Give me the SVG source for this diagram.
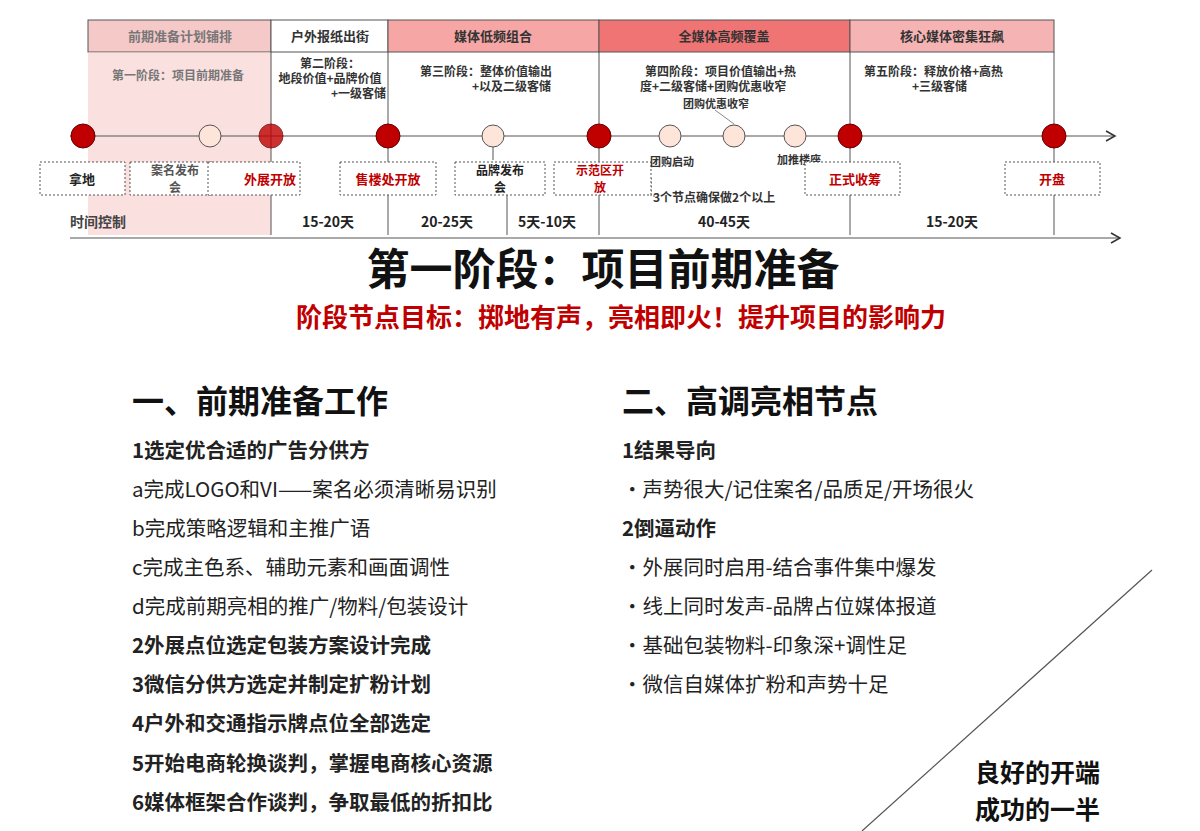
<svg xmlns="http://www.w3.org/2000/svg" width="1200" height="831" viewBox="0 0 1200 831">
<style>
text{font-family:"Noto Sans CJK SC","Noto Sans",sans-serif}
.hd{font-size:13px;font-weight:bold;fill:#333;text-anchor:middle}
.ph{font-size:12px;font-weight:bold;fill:#333}
.nb{fill:#fff;stroke:#555;stroke-dasharray:2 2;stroke-width:1}
.nt{font-size:13px;font-weight:bold;text-anchor:middle;fill:#222}
.n2{font-size:12px}
.tm{font-size:14px;font-weight:bold;text-anchor:middle;fill:#222}
.vl{stroke:#555;stroke-width:1}
.big{fill:#c00000;stroke:#600;stroke-width:1}
.sm{fill:#fde5da;stroke:#555;stroke-width:1}
.l{font-size:20.5px;fill:#222}
.b{font-weight:bold}
</style>
<defs><marker id="ar" markerWidth="12" markerHeight="12" refX="10" refY="6" orient="auto" markerUnits="userSpaceOnUse"><path d="M1,1 L10,6 L1,11" fill="none" stroke="#333" stroke-width="1.5"/></marker></defs>
<g id="header">
<rect x="88" y="20" width="183" height="32" fill="#f6c9c9" stroke="#555"/>
<rect x="271" y="20" width="117" height="32" fill="#fff" stroke="#555"/>
<rect x="388" y="20" width="211" height="32" fill="#f7a6a6" stroke="#555"/>
<rect x="599" y="20" width="251" height="32" fill="#f07474" stroke="#555"/>
<rect x="850" y="20" width="204" height="32" fill="#f6b3b3" stroke="#555"/>
<text class="hd" x="180" y="41" style="fill:#777">前期准备计划铺排</text>
<text class="hd" x="330" y="41">户外报纸出街</text>
<text class="hd" x="493" y="41">媒体低频组合</text>
<text class="hd" x="724" y="41">全媒体高频覆盖</text>
<text class="hd" x="952" y="41">核心媒体密集狂飙</text>
</g>
<rect x="88" y="52" width="183" height="183" fill="#f8cccc" opacity="0.6"/>
<g id="connectors">
<line class="vl" x1="271" y1="52" x2="271" y2="235"/>
<line class="vl" x1="388" y1="52" x2="388" y2="235"/>
<line class="vl" x1="599" y1="52" x2="599" y2="235"/>
<line class="vl" x1="850" y1="52" x2="850" y2="235"/>
<line class="vl" x1="1054" y1="52" x2="1054" y2="235"/>
<line class="vl" x1="493" y1="136" x2="493" y2="160"/>
<line class="vl" x1="507" y1="195" x2="507" y2="235"/>
<line x1="70" y1="136" x2="1115" y2="136" stroke="#555" stroke-width="1.2" marker-end="url(#ar)"/>
<line x1="70" y1="238" x2="1120" y2="238" stroke="#555" stroke-width="1.2" marker-end="url(#ar)"/>
<line x1="715" y1="110" x2="734" y2="124" stroke="#888"/>
<path d="M651,178 V196 H657" fill="none" stroke="#555" stroke-dasharray="2 2"/>
</g>
<g id="phases">
<text class="ph" x="112" y="80" style="fill:#777">第一阶段：项目前期准备</text>
<text class="ph" x="330" y="68" text-anchor="middle">第二阶段：</text>
<text class="ph" x="330" y="83" text-anchor="middle">地段价值+品牌价值</text>
<text class="ph" x="386" y="98" text-anchor="end">+一级客储</text>
<text class="ph" x="420" y="76">第三阶段：整体价值输出</text>
<text class="ph" x="472" y="91">+以及二级客储</text>
<text class="ph" x="645" y="76">第四阶段：项目价值输出+热</text>
<text class="ph" x="640" y="91">度+二级客储+团购优惠收窄</text>
<text class="ph" x="683" y="108" style="font-size:11px">团购优惠收窄</text>
<text class="ph" x="864" y="76">第五阶段：释放价格+高热</text>
<text class="ph" x="912" y="91">+三级客储</text>
</g>
<g id="dots">
<circle class="big" cx="83" cy="136" r="12"/>
<circle class="sm" cx="210" cy="136" r="11"/>
<circle class="big" cx="271" cy="136" r="12" opacity="0.8"/>
<circle class="big" cx="388" cy="136" r="12"/>
<circle class="sm" cx="493" cy="136" r="11"/>
<circle class="big" cx="599" cy="136" r="12"/>
<circle class="sm" cx="670" cy="136" r="11"/>
<circle class="sm" cx="734" cy="136" r="11"/>
<circle class="sm" cx="795" cy="136" r="11"/>
<circle class="big" cx="850" cy="136" r="12"/>
<circle class="big" cx="1054" cy="136" r="12"/>
</g>
<g id="nodes">
<g id="n1"><rect class="nb" x="40" y="162" width="85" height="33"/><text class="nt" x="82" y="184">拿地</text></g>
<g id="n2"><rect class="nb" x="130" y="162" width="82" height="33"/><text class="nt n2" x="175" y="175" style="fill:#555">案名发布</text><text class="nt n2" x="175" y="192" style="fill:#555">会</text></g>
<g id="n3"><rect class="nb" x="208" y="162" width="92" height="33"/><text class="nt" x="270" y="184" style="fill:#c00000">外展开放</text></g>
<g id="n4"><rect class="nb" x="340" y="162" width="96" height="33"/><text class="nt" x="388" y="184" style="fill:#c00000">售楼处开放</text></g>
<g id="n5"><rect class="nb" x="455" y="162" width="90" height="33"/><text class="nt n2" x="500" y="175">品牌发布</text><text class="nt n2" x="500" y="192">会</text></g>
<g id="n6"><rect class="nb" x="554" y="162" width="97" height="33"/><text class="nt n2" x="600" y="175" style="fill:#c00000">示范区开</text><text class="nt n2" x="600" y="192" style="fill:#c00000">放</text></g>
<text x="650" y="166" style="font-size:11px;font-weight:bold;fill:#333">团购启动</text>
<text x="777" y="164" style="font-size:11px;font-weight:bold;fill:#333">加推楼座</text>
<text x="653" y="202" style="font-size:12px;font-weight:bold;fill:#333">3个节点确保做2个以上</text>
<g id="n7"><rect class="nb" x="805" y="162" width="95" height="33"/><text class="nt" x="855" y="184" style="fill:#c00000">正式收筹</text></g>
<g id="n8"><rect class="nb" x="1005" y="162" width="95" height="33"/><text class="nt" x="1052" y="184" style="fill:#c00000">开盘</text></g>
</g>
<g id="times">
<text class="tm" x="70" y="227" style="text-anchor:start;fill:#444">时间控制</text>
<text class="tm" x="328" y="227">15-20天</text>
<text class="tm" x="447" y="227">20-25天</text>
<text class="tm" x="547" y="227">5天-10天</text>
<text class="tm" x="724" y="227">40-45天</text>
<text class="tm" x="952" y="227">15-20天</text>
</g>
<text x="603" y="285" text-anchor="middle" style="font-size:43px;font-weight:bold;fill:#111">第一阶段：项目前期准备</text>
<text x="621" y="327" text-anchor="middle" style="font-size:26px;font-weight:bold;fill:#c00000">阶段节点目标：掷地有声，亮相即火！提升项目的影响力</text>
<g id="left">
<text x="132" y="413" style="font-size:32px;font-weight:bold;fill:#111">一、前期准备工作</text>
<text class="l b" x="132" y="458">1选定优合适的广告分供方</text>
<text class="l" x="132" y="497">a完成LOGO和VI——案名必须清晰易识别</text>
<text class="l" x="132" y="536">b完成策略逻辑和主推广语</text>
<text class="l" x="132" y="575">c完成主色系、辅助元素和画面调性</text>
<text class="l" x="132" y="614">d完成前期亮相的推广/物料/包装设计</text>
<text class="l b" x="132" y="653">2外展点位选定包装方案设计完成</text>
<text class="l b" x="132" y="692">3微信分供方选定并制定扩粉计划</text>
<text class="l b" x="132" y="731">4户外和交通指示牌点位全部选定</text>
<text class="l b" x="132" y="771">5开始电商轮换谈判，掌握电商核心资源</text>
<text class="l b" x="132" y="810">6媒体框架合作谈判，争取最低的折扣比</text>
</g>
<g id="right">
<text x="622" y="413" style="font-size:32px;font-weight:bold;fill:#111">二、高调亮相节点</text>
<text class="l b" x="622" y="458">1结果导向</text>
<text class="l" x="622" y="497">•声势很大/记住案名/品质足/开场很火</text>
<text class="l b" x="622" y="536">2倒逼动作</text>
<text class="l" x="622" y="575">•外展同时启用-结合事件集中爆发</text>
<text class="l" x="622" y="614">•线上同时发声-品牌占位媒体报道</text>
<text class="l" x="622" y="653">•基础包装物料-印象深+调性足</text>
<text class="l" x="622" y="692">•微信自媒体扩粉和声势十足</text>
</g>
<line x1="1152" y1="570" x2="862" y2="831" stroke="#555" stroke-width="1.2"/>
<text x="975" y="782" style="font-size:25px;font-weight:bold;fill:#111">良好的开端</text>
<text x="975" y="819" style="font-size:25px;font-weight:bold;fill:#111">成功的一半</text>
</svg>
